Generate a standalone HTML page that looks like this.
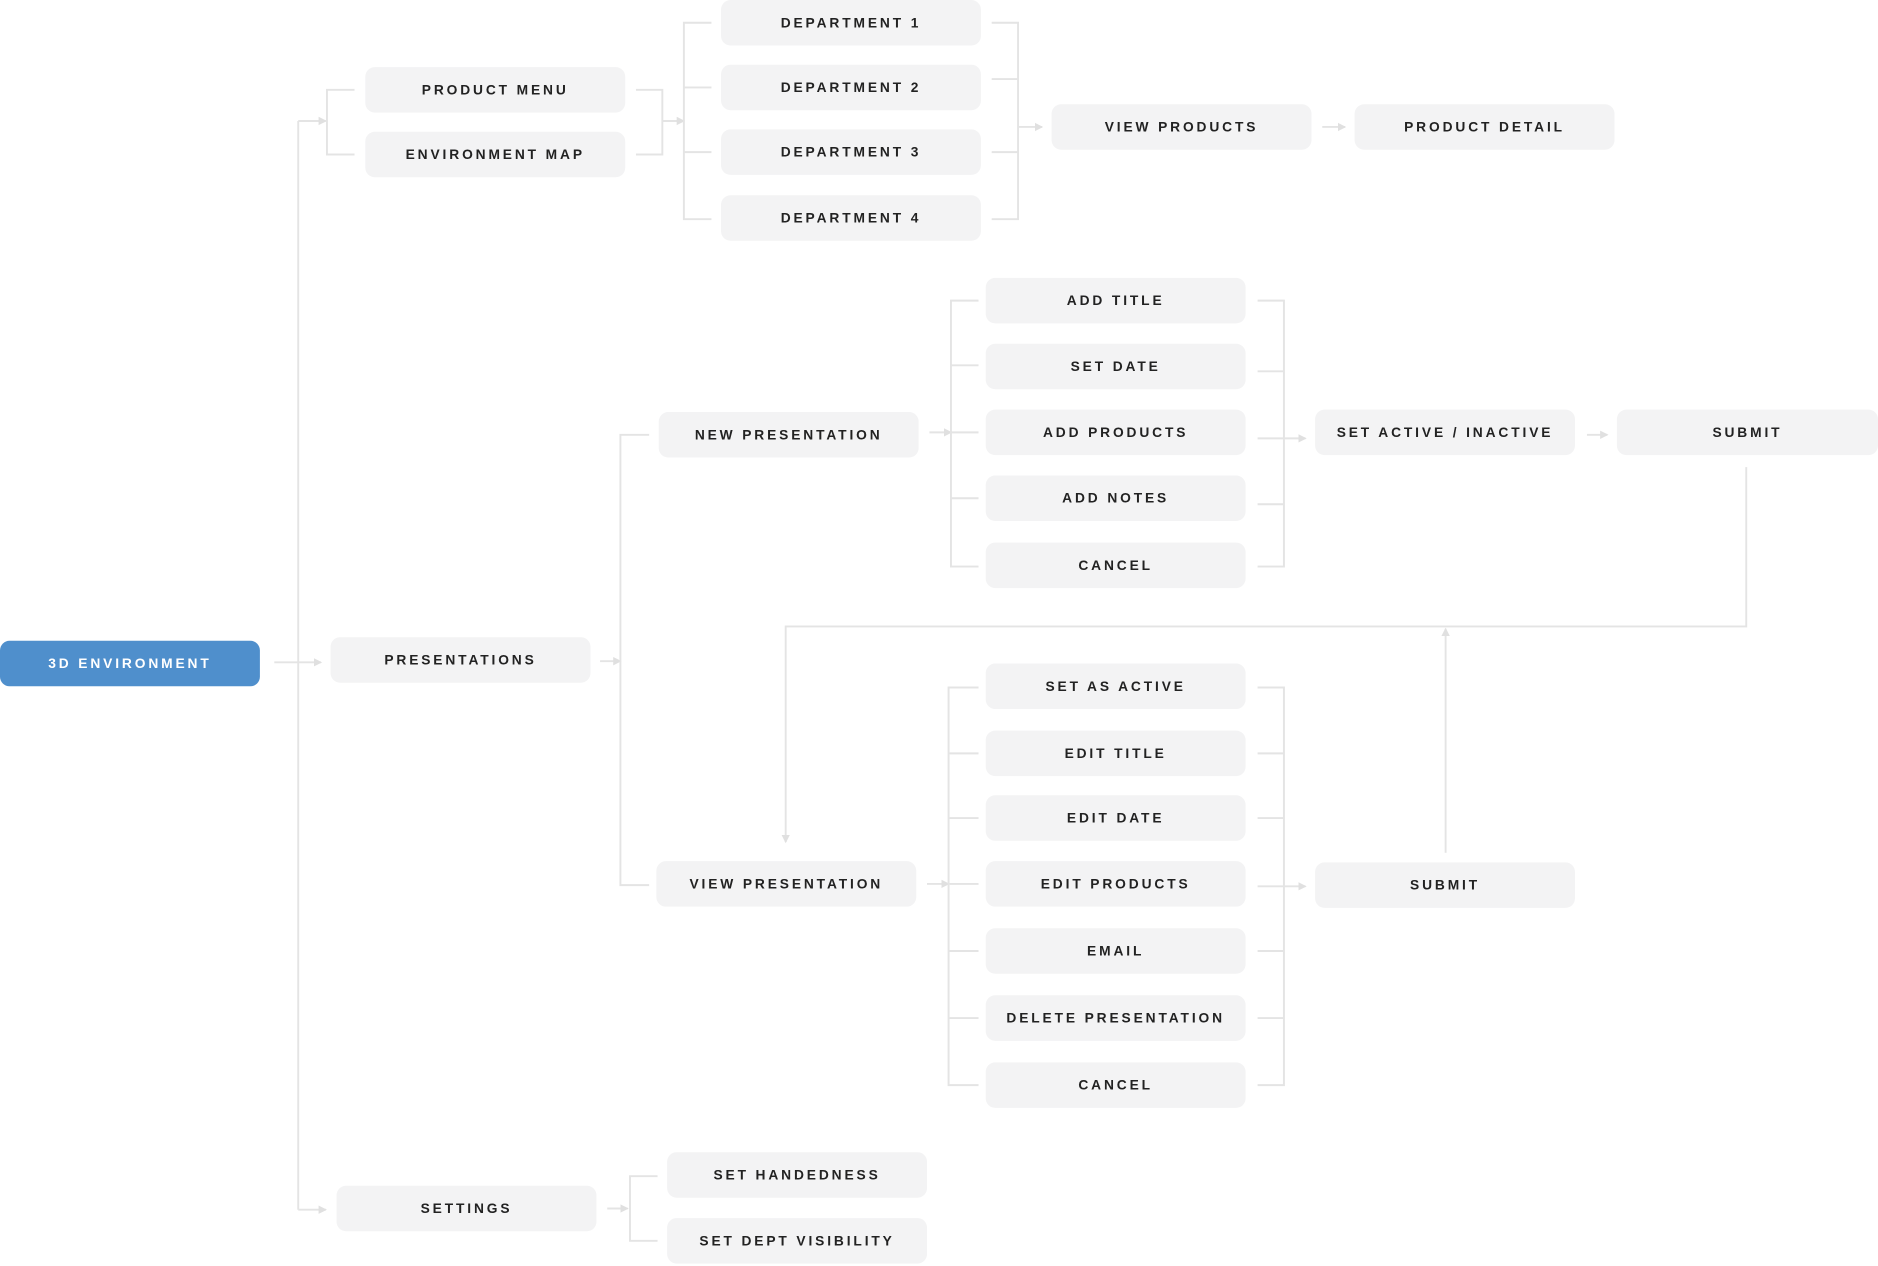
<!DOCTYPE html>
<html><head><meta charset="utf-8"><style>
html,body{margin:0;padding:0;background:#fff;}
svg{display:block;}
text{font-family:"Liberation Sans",sans-serif;font-weight:bold;font-size:11.5px;letter-spacing:2.4px;fill:#222;text-anchor:middle;dominant-baseline:central;}
.b{fill:#f3f3f4;}
.l{stroke:#e4e4e4;stroke-width:1.6;fill:none;}
</style></head><body>
<svg width="1878" height="1266" viewBox="0 0 1568 1057" xmlns="http://www.w3.org/2000/svg">
<defs><marker id="ar" markerWidth="8" markerHeight="8" refX="6" refY="4" orient="auto" markerUnits="userSpaceOnUse"><path d="M0,0.5 L7,4 L0,7.5z" fill="#e0e0e0"/></marker></defs>
<g class="l">
<path d="M249,101 V1010"/>
<path d="M249,101 H272" marker-end="url(#ar)"/>
<path d="M229,553 H268" marker-end="url(#ar)"/>
<path d="M249,1010 H272" marker-end="url(#ar)"/>
<path d="M296,75 H273 V129 H296"/>
<path d="M531,75 H553 V129 H531"/>
<path d="M553,101 H571" marker-end="url(#ar)"/>
<path d="M594,19 H571 V183 H594 M571,73 H594 M571,127 H594"/>
<path d="M828,19 H850 V183 H828 M828,66 H850 M828,127 H850"/>
<path d="M850,106 H870" marker-end="url(#ar)"/>
<path d="M1104,106 H1123" marker-end="url(#ar)"/>
<path d="M501,552 H518" marker-end="url(#ar)"/>
<path d="M542,363 H518 V739 H542"/>
<path d="M776,361 H794" marker-end="url(#ar)"/>
<path d="M817,251 H794 V473 H817 M794,305 H817 M794,361 H817 M794,416 H817"/>
<path d="M1050,251 H1072 V473 H1050 M1050,310 H1072 M1050,421 H1072"/>
<path d="M1050,366 H1090" marker-end="url(#ar)"/>
<path d="M1325,363 H1342" marker-end="url(#ar)"/>
<path d="M1458,390 V523 H656 V703" marker-end="url(#ar)"/>
<path d="M1207,712 V525" marker-end="url(#ar)"/>
<path d="M774,738 H792" marker-end="url(#ar)"/>
<path d="M817,574 H792 V906 H817 M792,629 H817 M792,683 H817 M792,738 H817 M792,794 H817 M792,850 H817"/>
<path d="M1050,574 H1072 V906 H1050 M1050,629 H1072 M1050,683 H1072 M1050,794 H1072 M1050,850 H1072"/>
<path d="M1050,740 H1090" marker-end="url(#ar)"/>
<path d="M507,1009 H524" marker-end="url(#ar)"/>
<path d="M549,982 H526 V1036 H549"/>
</g>
<rect x="0" y="535" width="217" height="38" rx="8" fill="#4f8fcc"/>
<text x="108.5" y="554" style="fill:#fff">3D ENVIRONMENT</text>
<g>
<rect class="b" x="305" y="56" width="217" height="38" rx="8"/><text x="413.5" y="75">PRODUCT MENU</text>
<rect class="b" x="305" y="110" width="217" height="38" rx="8"/><text x="413.5" y="129">ENVIRONMENT MAP</text>
<rect class="b" x="602" y="0" width="217" height="38" rx="8"/><text x="710.5" y="19">DEPARTMENT 1</text>
<rect class="b" x="602" y="54" width="217" height="38" rx="8"/><text x="710.5" y="73">DEPARTMENT 2</text>
<rect class="b" x="602" y="108" width="217" height="38" rx="8"/><text x="710.5" y="127">DEPARTMENT 3</text>
<rect class="b" x="602" y="163" width="217" height="38" rx="8"/><text x="710.5" y="182">DEPARTMENT 4</text>
<rect class="b" x="878" y="87" width="217" height="38" rx="8"/><text x="986.5" y="106">VIEW PRODUCTS</text>
<rect class="b" x="1131" y="87" width="217" height="38" rx="8"/><text x="1239.5" y="106">PRODUCT DETAIL</text>
<rect class="b" x="276" y="532" width="217" height="38" rx="8"/><text x="384.5" y="551">PRESENTATIONS</text>
<rect class="b" x="550" y="344" width="217" height="38" rx="8"/><text x="658.5" y="363">NEW PRESENTATION</text>
<rect class="b" x="823" y="232" width="217" height="38" rx="8"/><text x="931.5" y="251">ADD TITLE</text>
<rect class="b" x="823" y="287" width="217" height="38" rx="8"/><text x="931.5" y="306">SET DATE</text>
<rect class="b" x="823" y="342" width="217" height="38" rx="8"/><text x="931.5" y="361">ADD PRODUCTS</text>
<rect class="b" x="823" y="397" width="217" height="38" rx="8"/><text x="931.5" y="416">ADD NOTES</text>
<rect class="b" x="823" y="453" width="217" height="38" rx="8"/><text x="931.5" y="472">CANCEL</text>
<rect class="b" x="1098" y="342" width="217" height="38" rx="8"/><text x="1206.5" y="361">SET ACTIVE / INACTIVE</text>
<rect class="b" x="1350" y="342" width="218" height="38" rx="8"/><text x="1459" y="361">SUBMIT</text>
<rect class="b" x="548" y="719" width="217" height="38" rx="8"/><text x="656.5" y="738">VIEW PRESENTATION</text>
<rect class="b" x="823" y="554" width="217" height="38" rx="8"/><text x="931.5" y="573">SET AS ACTIVE</text>
<rect class="b" x="823" y="610" width="217" height="38" rx="8"/><text x="931.5" y="629">EDIT TITLE</text>
<rect class="b" x="823" y="664" width="217" height="38" rx="8"/><text x="931.5" y="683">EDIT DATE</text>
<rect class="b" x="823" y="719" width="217" height="38" rx="8"/><text x="931.5" y="738">EDIT PRODUCTS</text>
<rect class="b" x="823" y="775" width="217" height="38" rx="8"/><text x="931.5" y="794">EMAIL</text>
<rect class="b" x="823" y="831" width="217" height="38" rx="8"/><text x="931.5" y="850">DELETE PRESENTATION</text>
<rect class="b" x="823" y="887" width="217" height="38" rx="8"/><text x="931.5" y="906">CANCEL</text>
<rect class="b" x="1098" y="720" width="217" height="38" rx="8"/><text x="1206.5" y="739">SUBMIT</text>
<rect class="b" x="281" y="990" width="217" height="38" rx="8"/><text x="389.5" y="1009">SETTINGS</text>
<rect class="b" x="557" y="962" width="217" height="38" rx="8"/><text x="665.5" y="981">SET HANDEDNESS</text>
<rect class="b" x="557" y="1017" width="217" height="38" rx="8"/><text x="665.5" y="1036">SET DEPT VISIBILITY</text>
</g>
</svg>
</body></html>
